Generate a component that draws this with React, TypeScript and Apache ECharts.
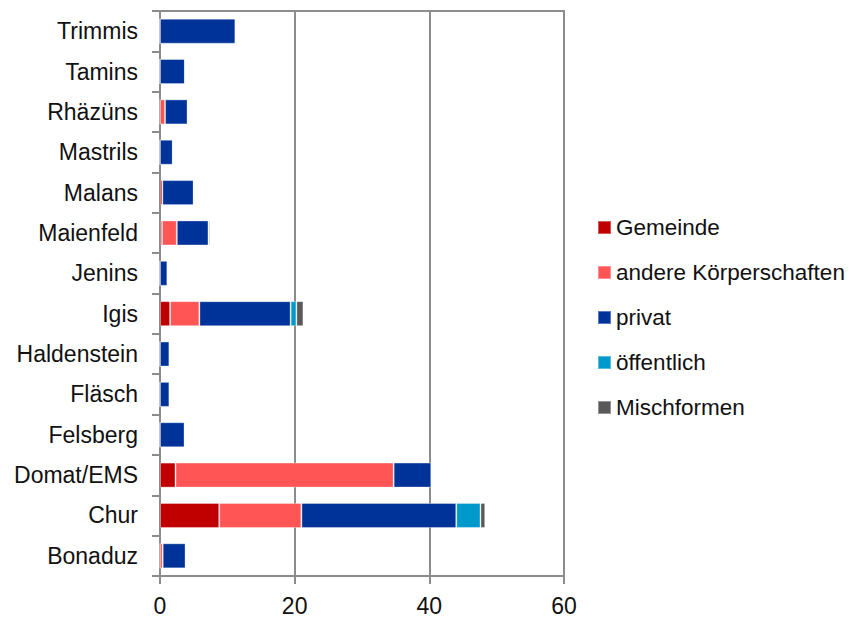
import React, { useEffect, useRef } from "react";
import * as echarts from "echarts";

// Gemeinden, listed from the bottom of the axis upwards
const gemeinden = [
  "Bonaduz",
  "Chur",
  "Domat/EMS",
  "Felsberg",
  "Fläsch",
  "Haldenstein",
  "Igis",
  "Jenins",
  "Maienfeld",
  "Malans",
  "Mastrils",
  "Rhäzüns",
  "Tamins",
  "Trimmis",
];

const gemeinde = [0, 8.8, 2.3, 0, 0, 0, 1.5, 0, 0.3, 0.35, 0, 0, 0, 0];
const andereKoerperschaften = [0.4, 12.2, 32.4, 0, 0, 0, 4.35, 0, 2.2, 0, 0, 0.75, 0, 0];
const privat = [3.4, 23.0, 5.6, 3.65, 1.4, 1.4, 13.55, 1.1, 4.7, 4.65, 1.9, 3.35, 3.7, 11.2];
const oeffentlich = [0, 3.6, 0, 0, 0, 0, 0.85, 0, 0, 0, 0, 0, 0, 0];
const mischformen = [0, 0.7, 0, 0, 0, 0, 1.05, 0, 0.2, 0, 0, 0, 0, 0];

const xTicks = [0, 20, 40, 60];

const seriesDefs = [
  { name: "Gemeinde", data: gemeinde, color: "#C00000" },
  { name: "andere Körperschaften", data: andereKoerperschaften, color: "#FF5555" },
  { name: "privat", data: privat, color: "#003399" },
  { name: "öffentlich", data: oeffentlich, color: "#0099CC" },
  { name: "Mischformen", data: mischformen, color: "#595959" },
];

const FONT = "'Liberation Sans', Arial, sans-serif";
const FS = 23;

export default function App() {
  const ref = useRef<HTMLDivElement>(null);

  useEffect(() => {
    if (!ref.current) return;
    const chart = echarts.init(ref.current, null, { renderer: "svg" });
    chart.setOption({
      animation: false,
      backgroundColor: "#ffffff",
      textStyle: { fontFamily: FONT },
      grid: {
        left: 160,
        right: 285,
        top: 11,
        bottom: 41,
        show: true,
        borderColor: "#8c8c8c",
        borderWidth: 2,
        backgroundColor: "transparent",
      },
      legend: {
        orient: "vertical",
        left: 597,
        top: 216,
        padding: 0,
        itemWidth: 13,
        itemHeight: 13,
        itemGap: 22,
        icon: "rect",
        textStyle: { fontFamily: FONT, fontSize: 22.5, color: "#111", padding: [0, 0, 0, 0] },
        data: seriesDefs.map((s) => s.name),
      },
      xAxis: {
        type: "value",
        min: xTicks[0],
        max: xTicks[xTicks.length - 1],
        interval: 20,
        axisLine: { show: true, lineStyle: { color: "#8c8c8c", width: 2 } },
        axisTick: { show: true, length: 8, lineStyle: { color: "#8c8c8c", width: 2 } },
        axisLabel: { fontSize: FS, color: "#111", margin: 18, fontFamily: FONT },
        splitLine: { show: true, lineStyle: { color: "#8c8c8c", width: 2 } },
      },
      yAxis: {
        type: "category",
        data: gemeinden,
        axisLine: { show: true, lineStyle: { color: "#8c8c8c", width: 2 } },
        axisTick: { show: true, length: 8, lineStyle: { color: "#8c8c8c", width: 2 } },
        axisLabel: { fontSize: FS, color: "#111", margin: 22, fontFamily: FONT },
        splitLine: { show: false },
      },
      series: seriesDefs.map((s) => ({
        name: s.name,
        type: "bar",
        stack: "total",
        data: s.data,
        barWidth: "62%",
        itemStyle: {
          color: s.color,
          borderColor: "rgba(255,255,255,0.35)",
          borderWidth: 1,
        },
      })),
    });
    return () => chart.dispose();
  }, []);

  return (
    <div
      ref={ref}
      style={{ position: "fixed", left: 0, top: 0, width: 849, height: 617 }}
    />
  );
}
